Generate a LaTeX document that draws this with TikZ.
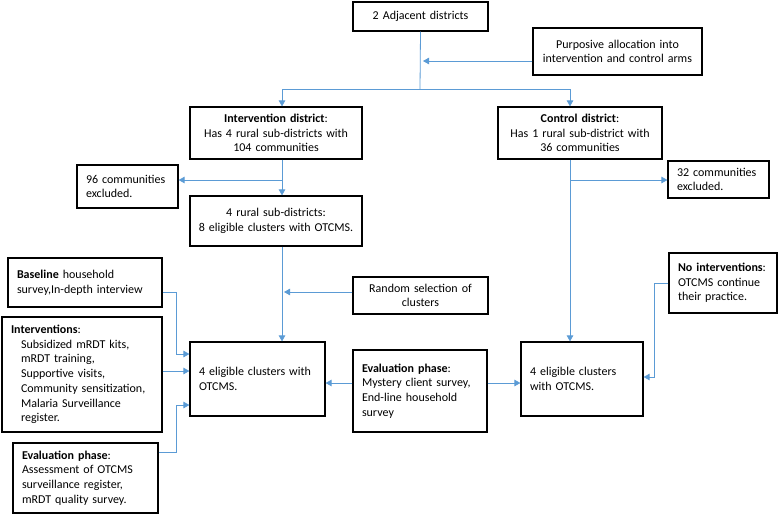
\documentclass[tikz,border=0pt]{standalone}
\usepackage{fontspec}
\setmainfont{Carlito}
\usetikzlibrary{calc,arrows.meta}
\definecolor{linkblue}{RGB}{91,155,213}
\tikzset{
	box/.style={draw=black, line width=1.2pt, fill=white, inner xsep=9pt, inner ysep=2pt, font=\fontsize{12}{14.7}\selectfont},
	cbox/.style={box, align=center, inner xsep=3pt},
	lbox/.style={box, align=left},
	link/.style={draw=linkblue, line width=0.8pt},
	arr/.style={link, -{Triangle[length=6pt,width=6.5pt]}},
}
\newcommand{\ind}{\hspace*{10pt}}

\begin{document}
\begin{tikzpicture}[x=1pt, y=-1pt]
			%%%%% START %%%%%
			\useasboundingbox (0,0) rectangle (778,515);
			
			% top
			\node[cbox, text width=129pt, minimum height=29pt] (adj) at (420.5,16.5) {2 Adjacent districts};
			\node[cbox, text width=163pt, minimum height=47pt] (purp) at (617.5,51.5) {Purposive allocation into\\intervention and control arms};
			
			% two arms
			\node[cbox, text width=166pt, minimum height=52pt] (intd) at (276,133) {\textbf{Intervention district}:\\Has 4 rural sub-districts with\\104 communities};
			\node[cbox, text width=158pt, minimum height=52pt] (ctrl) at (580,133) {\textbf{Control district}:\\Has 1 rural sub-district with\\36 communities};
			
			\node[lbox, text width=83pt, minimum height=43pt] (ex96) at (127.5,186.5) {96 communities\\excluded.};
			\node[lbox, text width=83pt, minimum height=37pt] (ex32) at (718.5,179.5) {32 communities\\excluded.};
			
			\node[cbox, text width=166pt, minimum height=50pt] (rural) at (276,221) {4 rural sub-districts:\\8 eligible clusters with OTCMS.};
			
			% side boxes
			\node[lbox, text width=136pt, minimum height=49pt] (base) at (85,282.5) {\textbf{Baseline} household\\survey,In-depth interview};
			\node[cbox, text width=129pt, minimum height=37pt] (rand) at (420.5,295.5) {Random selection of\\clusters};
			\node[lbox, text width=90pt, minimum height=60pt] (noint) at (723,283) {\textbf{No interventions}:\\OTCMS continue\\their practice.};
			\node[lbox, text width=142pt, minimum height=115pt] (interv) at (82,374.5) {\textbf{Interventions}:\\\ind Subsidized mRDT kits,\\\ind mRDT training,\\\ind Supportive visits,\\\ind Community sensitization,\\\ind Malaria Surveillance\\\ind register.};
			\node[lbox, text width=127pt, minimum height=70pt] (evalb) at (85.5,478) {\textbf{Evaluation phase}:\\Assessment of OTCMS\\surveillance register,\\mRDT quality survey.};
			
			% bottom row
			\node[lbox, text width=117pt, minimum height=74pt] (elig1) at (257.5,379) {4 eligible clusters with\\OTCMS.};
			\node[lbox, text width=116pt, minimum height=82pt] (evalm) at (420,391) {\textbf{Evaluation phase}:\\Mystery client survey,\\End-line household\\survey\\[4pt]};
			\node[lbox, text width=104pt, minimum height=74pt] (elig2) at (582,379) {4 eligible clusters\\with OTCMS.};
			
			% connectors
			\coordinate (ltrunk) at (282,0);
			\coordinate (rtrunk) at (570,0);
			\coordinate (fork) at (420,89);
			\coordinate (purpend) at (423,61);
			
			\draw[link] (adj.south) -- (fork);
			\draw[arr] (fork) -| (intd.north -| ltrunk);
			\draw[arr] (fork) -| (ctrl.north -| rtrunk);
			\draw[arr] (purp.west |- purpend) -- (purpend);
			
			\draw[arr] (intd.south -| ltrunk) -- (rural.north -| ltrunk);
			\draw[arr] (282,180) -- (ex96.east |- 0,180);
			\draw[arr] (ctrl.south -| rtrunk) -- (elig2.north -| rtrunk);
			\draw[arr] (570,180) -- (ex32.west |- 0,180);
			
			\draw[arr] (rural.south -| ltrunk) -- (elig1.north -| ltrunk);
			\draw[arr, shorten >=2pt] (rand.west |- 0,292) -- (ltrunk |- 0,292);
			
			\draw[arr] (base.east |- 0,292) -- ++(14,0) |- (elig1.west |- 0,354);
			\draw[arr] (interv.east |- 0,371) -- (elig1.west |- 0,371);
			\draw[arr] (evalb.east |- 0,452) -- ++(18,0) |- (elig1.west |- 0,405);
			
			\draw[arr] (evalm.west |- 0,383) -- (elig1.east |- 0,383);
			\draw[arr] (evalm.east |- 0,383) -- (elig2.west |- 0,383);
			\draw[arr] (noint.west |- 0,283) -- ++(-14,0) |- (elig2.east |- 0,377);
			
			%%%%% END %%%%%
\end{tikzpicture}
\end{document}
